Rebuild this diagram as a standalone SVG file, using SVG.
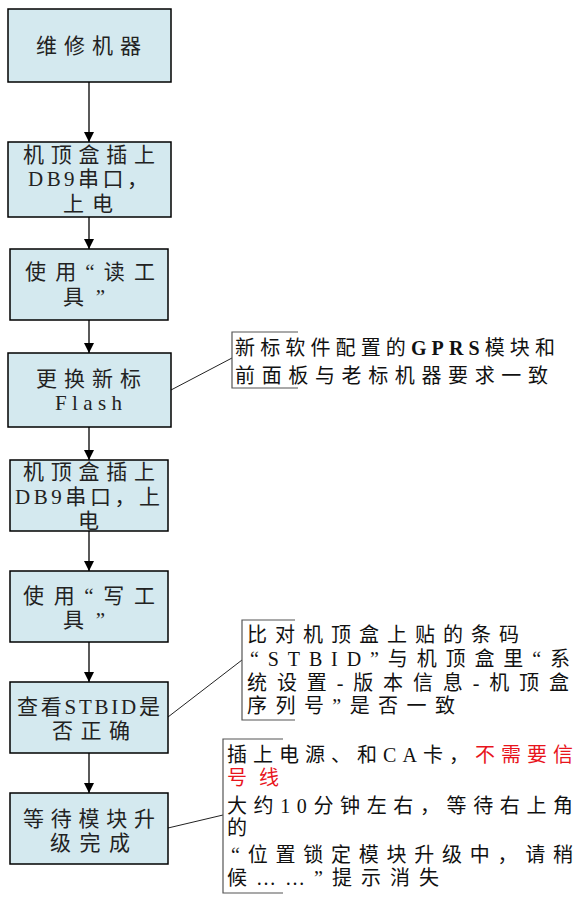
<svg xmlns="http://www.w3.org/2000/svg" width="576" height="903" viewBox="0 0 576 903">
<defs>
<marker id="ah" markerUnits="userSpaceOnUse" markerWidth="12" markerHeight="10" refX="10" refY="5" orient="auto">
<path d="M0,0 L10,5 L0,10 Z" fill="#000"/>
</marker>
<style>
.box{fill:#d4e9ef;stroke:#000;stroke-width:1.5}
.bt{font-family:"Liberation Serif","Noto Sans CJK SC",serif;font-size:21px;fill:#222}
.at{font-family:"Liberation Serif","Noto Sans CJK SC",serif;font-size:20px;fill:#111}
.red{fill:#e8141c}
.conn{stroke:#000;stroke-width:1.3;fill:none}
.call{stroke:#222;stroke-width:1;fill:none}
.brk{stroke:#555;stroke-width:1.2;fill:none}
</style>
</defs>
<rect width="576" height="903" fill="#fff"/>
<g id="connectors">
<line class="conn" x1="89" y1="82" x2="89" y2="142" marker-end="url(#ah)"/>
<line class="conn" x1="89" y1="217" x2="89" y2="249" marker-end="url(#ah)"/>
<line class="conn" x1="89" y1="320" x2="89" y2="353" marker-end="url(#ah)"/>
<line class="conn" x1="89" y1="427" x2="89" y2="460" marker-end="url(#ah)"/>
<line class="conn" x1="89" y1="531" x2="89" y2="571" marker-end="url(#ah)"/>
<line class="conn" x1="89" y1="642" x2="89" y2="682" marker-end="url(#ah)"/>
<line class="conn" x1="89" y1="753" x2="89" y2="793" marker-end="url(#ah)"/>
<line class="call" x1="171" y1="390" x2="232" y2="358"/>
<line class="call" x1="168" y1="717" x2="242" y2="660"/>
<line class="call" x1="168" y1="828" x2="223" y2="815"/>
</g>
<g id="n1">
<rect class="box" x="8" y="9" width="163" height="73"/>
<text class="bt" x="36" y="53" font-size="24" textLength="105" lengthAdjust="spacing">维修机器</text>
</g>
<g id="n2">
<rect class="box" x="8" y="142" width="163" height="75"/>
<text class="bt" x="23" y="162" textLength="132" lengthAdjust="spacing">机顶盒插上</text>
<text class="bt" x="28" y="186" textLength="120" lengthAdjust="spacing">DB9串口，</text>
<text class="bt" x="63" y="211" textLength="50" lengthAdjust="spacing">上电</text>
</g>
<g id="n3">
<rect class="box" x="10" y="249" width="158" height="71"/>
<text class="bt" x="25" y="279" textLength="130" lengthAdjust="spacing">使用“读工</text>
<text class="bt" x="63" y="304" textLength="42" lengthAdjust="spacing">具”</text>
</g>
<g id="n4">
<rect class="box" x="8" y="353" width="163" height="74"/>
<text class="bt" x="36" y="386" font-size="22" textLength="105" lengthAdjust="spacing">更换新标</text>
<text class="bt" x="55" y="410" textLength="67" lengthAdjust="spacing">Flash</text>
</g>
<g id="n5">
<rect class="box" x="10" y="460" width="158" height="71"/>
<text class="bt" x="23" y="479" textLength="132" lengthAdjust="spacing">机顶盒插上</text>
<text class="bt" x="15" y="504" textLength="145" lengthAdjust="spacing">DB9串口，上</text>
<text class="bt" x="78" y="528">电</text>
</g>
<g id="n6">
<rect class="box" x="10" y="571" width="158" height="71"/>
<text class="bt" x="23" y="603" textLength="132" lengthAdjust="spacing">使用“写工</text>
<text class="bt" x="63" y="627" textLength="42" lengthAdjust="spacing">具”</text>
</g>
<g id="n7">
<rect class="box" x="10" y="682" width="158" height="71"/>
<text class="bt" x="17" y="714" textLength="143" lengthAdjust="spacing">查看STBID是</text>
<text class="bt" x="52" y="738" textLength="78" lengthAdjust="spacing">否正确</text>
</g>
<g id="n8">
<rect class="box" x="10" y="793" width="158" height="71"/>
<text class="bt" x="23" y="826" textLength="132" lengthAdjust="spacing">等待模块升</text>
<text class="bt" x="50" y="850" textLength="80" lengthAdjust="spacing">级完成</text>
</g>
<g id="note1">
<path class="brk" d="M298,332 H232 V388 H298"/>
<text class="at" x="235" y="355" font-size="23" textLength="320" lengthAdjust="spacing">新标软件配置的<tspan font-weight="bold">GPRS</tspan>模块和</text>
<text class="at" x="235" y="383" font-size="23" textLength="313" lengthAdjust="spacing">前面板与老标机器要求一致</text>
</g>
<g id="note2">
<path class="brk" d="M295,620 H242 V720 H295"/>
<text class="at" x="247" y="642" textLength="272" lengthAdjust="spacing">比对机顶盒上贴的条码</text>
<text class="at" x="250" y="666" textLength="320" lengthAdjust="spacing">“STBID”与机顶盒里“系</text>
<text class="at" x="247" y="690" textLength="322" lengthAdjust="spacing">统设置-版本信息-机顶盒</text>
<text class="at" x="247" y="713" textLength="208" lengthAdjust="spacing">序列号”是否一致</text>
</g>
<g id="note3">
<path class="brk" d="M283,739 H223 V893 H283"/>
<text class="at" x="227" y="762" textLength="346" lengthAdjust="spacing">插上电源、和CA卡，<tspan class="red">不需要信</tspan></text>
<text class="at red" x="227" y="785" textLength="52" lengthAdjust="spacing">号线</text>
<text class="at" x="227" y="813" textLength="346" lengthAdjust="spacing">大约10分钟左右，等待右上角</text>
<text class="at" x="227" y="835">的</text>
<text class="at" x="231" y="862" textLength="342" lengthAdjust="spacing">“位置锁定模块升级中，请稍</text>
<text class="at" x="227" y="885" textLength="212" lengthAdjust="spacing">候……”提示消失</text>
</g>
</svg>
